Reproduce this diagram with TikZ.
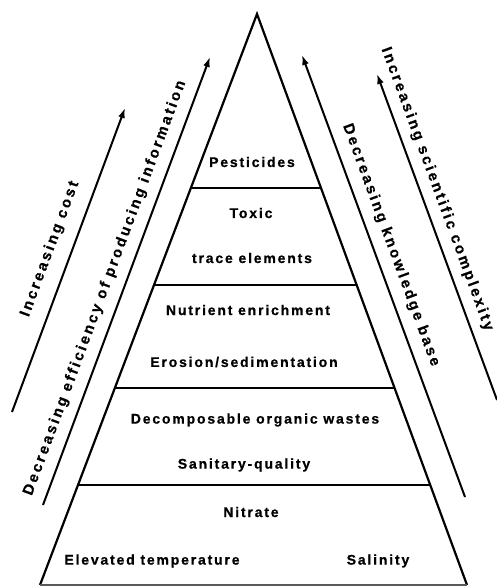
\documentclass[tikz,border=0pt]{standalone}
\usepackage{fontspec}
\setmainfont{Liberation Sans}
\newfontfamily\labfont[LetterSpace=13,FakeBold=0.6]{Liberation Sans Bold}
\newfontfamily\rotfont[LetterSpace=17,FakeBold=0.6]{Liberation Sans Bold}
\usetikzlibrary{arrows.meta,calc}
\tikzset{
  lab/.style={font=\labfont\fontsize{14}{16}\selectfont, inner sep=0pt, anchor=center},
  rlab/.style={font=\rotfont\fontsize{15}{17}\selectfont, inner sep=0pt, anchor=center},
  side/.style={line width=2.2pt, line join=miter},
  divider/.style={line width=1.5pt},
  baseline/.style={line width=1.2pt, black!65},
  trend/.style={line width=2pt, -{Latex[length=10pt,width=7pt]}}
}
\begin{document}
\begin{tikzpicture}[x=1pt,y=1pt]
\useasboundingbox (0,0) rectangle (497,586);
% triangle
\coordinate (apex) at (257,572);
\coordinate (bl) at (40,1);
\coordinate (br) at (467,1);
\draw[side] (bl) -- (apex) -- (br);
\draw[baseline] (bl) -- (br);
% dividers
\foreach \t [count=\i] in {0.3047,0.4746,0.6550,0.8249}{
  \coordinate (l\i) at ($(apex)!\t!(bl)$);
  \coordinate (r\i) at ($(apex)!\t!(br)$);
  \draw[divider] (l\i) -- (r\i);
}
% layer labels
\node[lab] (pest) at (252,424) {Pesticides};
\node[lab] (tox) at (251,373) {Toxic};
\node[lab] (trace) at (252,328) {trace elements};
\node[lab] (nutr) at (248,276) {Nutrient enrichment};
\node[lab] (eros) at (244,224) {Erosion/sedimentation};
\node[lab] (decomp) at (255,166) {Decomposable organic wastes};
\node[lab] (sanit) at (244,121) {Sanitary-quality};
\node[lab] (nitr) at (251,74) {Nitrate};
\node[lab] (elev) at (152,25) {Elevated temperature};
\node[lab] (salin) at (378,25) {Salinity};
% trend arrows
\coordinate (a1s) at (12,174);  \coordinate (a1e) at (125,478);
\coordinate (a2s) at (43,81);   \coordinate (a2e) at (210,529);
\coordinate (a3s) at (465,89);  \coordinate (a3e) at (302,531);
\coordinate (a4s) at (497,186); \coordinate (a4e) at (377,512);
\draw[trend] (a1s) -- (a1e);
\draw[trend] (a2s) -- (a2e);
\draw[trend] (a3s) -- (a3e);
\draw[trend] (a4s) -- (a4e);
\node[rlab, rotate=69.6] (cost) at (50,337) {Increasing cost};
\node[rlab, rotate=69.6] (eff) at (105,298) {Decreasing efficiency of producing information};
\node[rlab, rotate=-69.8] (know) at (391,341) {Decreasing knowledge base};
\node[rlab, rotate=-69.8] (compl) at (437,397) {Increasing scientific complexity};
\end{tikzpicture}
\end{document}
